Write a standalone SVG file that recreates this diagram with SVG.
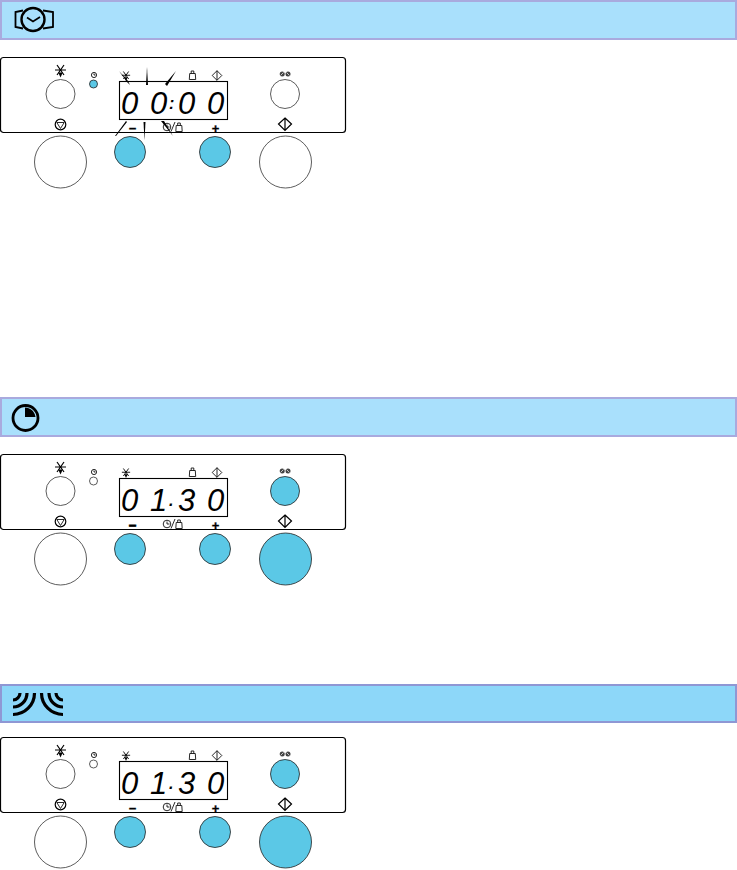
<svg xmlns="http://www.w3.org/2000/svg" width="737" height="870" viewBox="0 0 737 870">
<style>
.panel{fill:#fff;stroke:#000;stroke-width:1.2}
.disp{fill:#fff;stroke:#000;stroke-width:1.1}
.off{fill:#fff;stroke:#333;stroke-width:.8}
.on{fill:#5bc8e6;stroke:#222;stroke-width:.8}
.ic{fill:none;stroke:#111;stroke-width:.9}
.ick{fill:none;stroke:#000;stroke-width:1.2}
.dig{font-family:"Liberation Sans",sans-serif;font-style:italic;font-size:31px;fill:#000}
.sep{font-size:16px;font-weight:700}
.sign{font-family:"Liberation Sans",sans-serif;font-weight:700;font-size:13px;fill:#000;stroke:#000;stroke-width:.3;text-anchor:middle}
</style>
<defs>
<g id="light"><path d="M-5.500 -1H5.500M-3.500 -6L3.500 4M3.500 -6L-3.500 4" stroke="#000" stroke-width="1.2" fill="none"/><path d="M-2.200 1.500H2.200L0 6.500Z" fill="#000"/></g>
<g id="weight"><path d="M-2.800 -1.500H2.800L3.200 4.500H-3.200ZM-1.300 -1.500V-4H1.300V-1.500" class="ic"/></g>
<g id="diamond"><path d="M0 -4.800L4.800 0L0 4.800L-4.800 0ZM0 -4.800V4.800" class="ic"/></g>
<g id="clock"><circle r="2.600" class="ic"/><path d="M0 -1.500V0H1.500" class="ic"/></g>
<g id="hands"><circle cx="-2.800" r="2.500" fill="#444"/><circle cx="3" r="2.500" fill="#444"/><path d="M-4.500 1.500L-1.500 -1.500M1.500 -1.500L4.500 1.500" stroke="#fff" stroke-width=".7"/></g>
<g id="panel">
<rect class="panel" x=".5" y="57.500" width="345" height="75" rx="3"/>
<rect class="disp" x="119.500" y="81.500" width="108" height="38"/>
<use href="#light" x="60.500" y="71"/>
<use href="#clock" x="94" y="75"/>
<use href="#light" transform="translate(126 76) scale(.75)"/>
<use href="#weight" x="192.500" y="75"/>
<use href="#diamond" x="217" y="75.500"/>
<use href="#hands" x="285" y="74"/>
<circle cx="60.500" cy="124.500" r="5.300" class="ick"/>
<path d="M56.800 122.500H64.200L60.500 128.500Z" class="ic"/>
<path d="M285 118L291.500 124L285 130.500L278.500 124ZM285 118V130.500" class="ick"/>
<text class="sign" x="215.500" y="132.500">+</text>
<circle cx="167" cy="127" r="3.800" class="ic"/><path d="M167 124.500V127H169.500" class="ic"/>
<path d="M171 131.500L175 122" class="ic"/>
<use href="#weight" x="179" y="127"/>
</g>
</defs>

<g id="header-1">
<rect x="1" y="1" width="735" height="38" fill="#a9e0fc" stroke="#a9aade" stroke-width="2"/>
<circle cx="33" cy="19.500" r="11.500" fill="none" stroke="#000" stroke-width="2.400"/>
<path d="M27 17.500L33 21.500L40 17" fill="none" stroke="#000" stroke-width="1.700"/>
<path d="M23 10.500L15.500 12V27L23 28.500M43 10.500L53 12V27L43 28.500" fill="none" stroke="#000" stroke-width="1.800"/>
</g>
<g id="panel-1">
<use href="#panel"/>
<circle cx="93.500" cy="84" r="4" class="on"/>
<circle cx="60.500" cy="94" r="14.500" class="off"/>
<circle cx="285" cy="94" r="14.500" class="off"/>
<circle cx="60.500" cy="162" r="26" class="off"/>
<circle cx="130" cy="152" r="15.500" class="on"/>
<circle cx="215" cy="152" r="15.500" class="on"/>
<circle cx="285.500" cy="162" r="26" class="off"/>
<text class="dig" x="121 150" y="114">00<tspan class="sep" x="169" y="109">:</tspan><tspan x="178 207" y="114">00</tspan></text>
<text class="sign" x="132.500" y="132.500">−</text>
<g id="flash" fill="#000">
<path d="M119 71L127 82L130 85L128 81Z"/><path d="M147 67L146 85L148 85Z"/><path d="M176 71L165 84L167 86Z"/>
<path d="M126 121L115 136L116 136L127 122Z"/><path d="M143.500 122L145.500 122L144.500 140Z"/><path d="M161 121L164 121L173 136Z"/>
</g>
</g>

<g id="header-2">
<rect x="1" y="398" width="735" height="38" fill="#a9e0fc" stroke="#a9aade" stroke-width="2"/>
<circle cx="25.500" cy="418" r="12.500" fill="none" stroke="#000" stroke-width="2.800"/>
<path d="M25 407.500C30 407.500 34.500 411 35.500 417H25Z" fill="#000"/>
</g>
<g id="panel-2" transform="translate(0 397)">
<use href="#panel"/>
<circle cx="93.500" cy="84" r="4" class="off"/>
<circle cx="60.500" cy="94" r="14.500" class="off"/>
<circle cx="285" cy="94" r="14.500" class="on"/>
<circle cx="60.500" cy="162" r="26" class="off"/>
<circle cx="130" cy="152" r="15.500" class="on"/>
<circle cx="215" cy="152" r="15.500" class="on"/>
<circle cx="285.500" cy="162" r="26" class="on"/>
<text class="dig" x="121 150" y="114">01<tspan class="sep" x="169" y="109">.</tspan><tspan x="178 207" y="114">30</tspan></text>
<text class="sign" x="132.500" y="132.500" style="stroke-width:.8">−</text>
</g>

<g id="header-3">
<rect x="1" y="685" width="735" height="37" fill="#8dd7f9" stroke="#8f97d4" stroke-width="2"/>
<path d="M20 693A7 7 0 0 1 13 700M27 693A14 14 0 0 1 13 707M34.500 693A21.500 21.500 0 0 1 13 714.500M56 693A7 7 0 0 0 63 700M49 693A14 14 0 0 0 63 707M41.500 693A21.500 21.500 0 0 0 63 714.500" fill="none" stroke="#000" stroke-width="3.200"/>
</g>
<g id="panel-3" transform="translate(0 680)">
<use href="#panel"/>
<circle cx="93.500" cy="84" r="4" class="off"/>
<circle cx="60.500" cy="94" r="14.500" class="off"/>
<circle cx="285" cy="94" r="14.500" class="on"/>
<circle cx="60.500" cy="162" r="26" class="off"/>
<circle cx="130" cy="152" r="15.500" class="on"/>
<circle cx="215" cy="152" r="15.500" class="on"/>
<circle cx="285.500" cy="162" r="26" class="on"/>
<text class="dig" x="121 150" y="114">01<tspan class="sep" x="169" y="109">.</tspan><tspan x="178 207" y="114">30</tspan></text>
<text class="sign" x="132.500" y="132.500">−</text>
</g>
</svg>
